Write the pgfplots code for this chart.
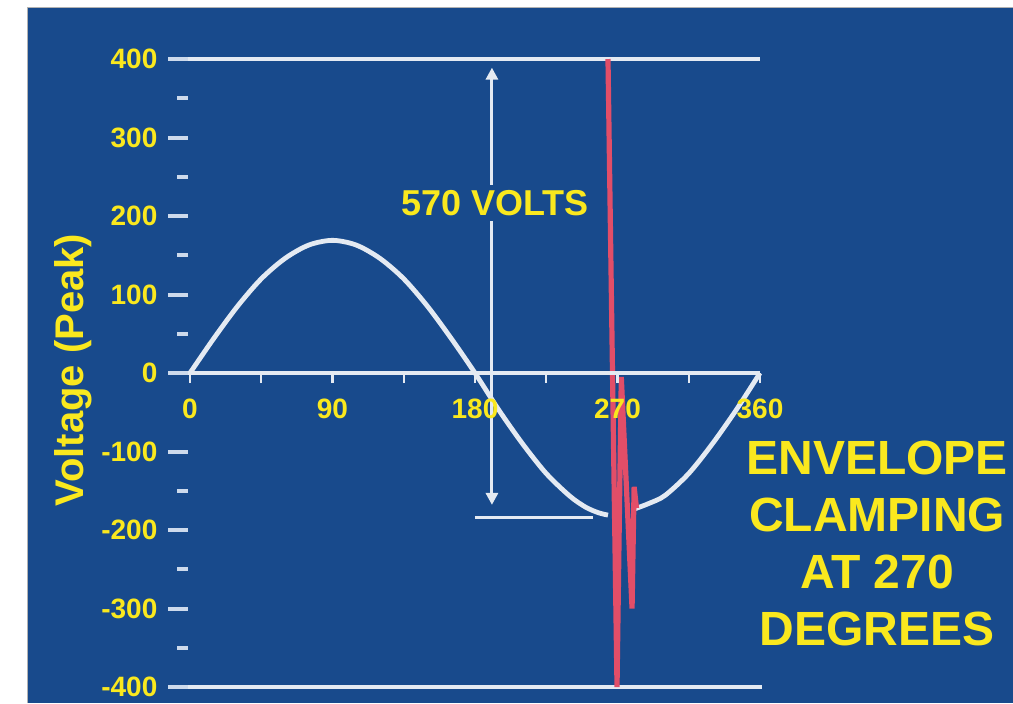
\documentclass[border=0pt]{standalone}
\usepackage{fontspec}
\setmainfont{Liberation Sans}
\usepackage{pgfplots}
\pgfplotsset{compat=1.18}
\usetikzlibrary{arrows.meta}

\definecolor{slide}{RGB}{24,74,140}
\definecolor{tyellow}{RGB}{250,232,30}
\definecolor{lwhite}{RGB}{228,234,242}
\definecolor{tickw}{RGB}{205,218,236}
\definecolor{spike}{RGB}{226,78,104}

\begin{document}
\begin{tikzpicture}
\begin{axis}[
    set layers, axis on top,
    x=0.79167pt, y=0.3925pt,
    xmin=-1, xmax=360, ymin=-400, ymax=400,
    enlargelimits=false, clip=false,
    axis x line=middle, axis y line=left,
    axis line style={-},
    x axis line style={draw=lwhite, line width=1.6pt},
    y axis line style={draw=none},
    hide obscured x ticks=false, hide obscured y ticks=false,
    tick align=outside,
    xtick={0,90,180,270,360},
    minor xtick={45,135,225,315},
    ytick={-400,-300,...,400},
    minor ytick={-350,-250,-150,50,150,250,350},
    major tick length=10pt, minor tick length=5.5pt,
    ytick style={draw=tickw, line width=2pt},
    xtick style={draw=lwhite, line width=1.2pt,
        /pgfplots/major tick length=5pt, /pgfplots/minor tick length=5pt},
    /pgf/number format/assume math mode=true,
    tick label style={font=\fontsize{14}{14}\selectfont\bfseries, text=tyellow},
    xticklabel style={yshift=0.5pt},
    yticklabel style={xshift=-2pt},
]
\begin{pgfonlayer}{axis background}
  \fill[white] (axis cs:-120,-420.4) rectangle (axis cs:519.8,475.2);
  \fill[slide] (axis cs:-102.95,-420.4) rectangle (axis cs:519.8,466.2);
  \draw[gray!60, line width=0.4pt] (axis cs:-102.95,-420.4) |- (axis cs:519.8,466.2);
\end{pgfonlayer}
\coordinate (BL) at (axis cs:-120,-420.4);
\coordinate (TR) at (axis cs:519.8,475.2);

% limit lines and the reference marks
\addplot[lwhite, line width=2pt] coordinates {(-13,400) (360,400)};
\addplot[lwhite, line width=2pt] coordinates {(-13,-400) (361,-400)};
\addplot[lwhite, line width=1.6pt] coordinates {(-13,0) (-1,0)};
\addplot[lwhite, line width=1.6pt] coordinates {(180,-184) (254.5,-184)};
\addplot[lwhite, line width=1.5pt, {Triangle[width=6pt,length=6pt]}-{Triangle[width=6pt,length=6pt]}]
    coordinates {(190.7,-168) (190.7,389)};

% sine wave, split where the transient hides it
\addplot[lwhite, line width=2.4pt, smooth] coordinates {
    (0,0) (15,44) (30,85) (45,120) (60,146) (75,163) (90,169)
    (105,163) (120,146) (135,120) (150,85) (165,44) (180,0)
    (195,-47) (210,-90) (225,-128) (240,-157) (250,-171) (258,-178) (264,-181)
};
\addplot[lwhite, line width=2.4pt, smooth] coordinates {
    (281,-173) (290,-166) (300,-156) (315,-128) (330,-90) (345,-47) (360,0)
};

% clamping transient
\addplot[spike, line width=2.6pt] coordinates {
    (264,400) (269.7,-400) (272.4,-5) (279.2,-300) (280.5,-145) (282,-172)
};

\node[font=\fontsize{18}{18}\selectfont\bfseries, text=tyellow, fill=slide, inner sep=2.5pt]
    at (axis cs:192.6,216.6) {570 VOLTS};
\node[font=\fontsize{20}{20}\selectfont\bfseries, text=tyellow, rotate=90]
    at (axis cs:-73.9,3.8) {Voltage (Peak)};
\node[font=\fontsize{24}{28.5}\selectfont\bfseries, text=tyellow, align=center]
    at (axis cs:434,-217) {ENVELOPE\\CLAMPING\\AT 270\\DEGREES};
\end{axis}
\pgfresetboundingbox
\useasboundingbox (BL) rectangle (TR);
\end{tikzpicture}
\end{document}
